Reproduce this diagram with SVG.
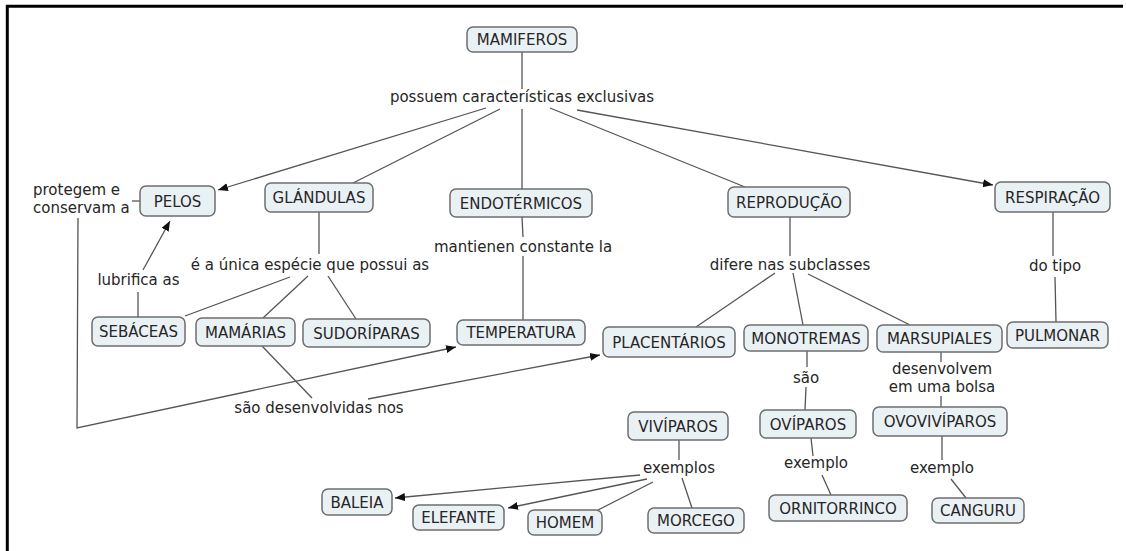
<svg xmlns="http://www.w3.org/2000/svg" width="1126" height="551" viewBox="0 0 1126 551">
  <style>
    .frame { stroke: #000; stroke-width: 3; fill: none; }
    .node rect { fill: #eaf1f5; stroke: #6e6e6e; stroke-width: 1.5; }
    .node text, .lbl { font-family: "DejaVu Sans", Verdana, sans-serif; font-size: 15px; fill: #262626; }
    .node text { text-anchor: middle; }
    .lbl { text-anchor: middle; }
    .lbl.left { text-anchor: start; }
    #connectors line, #connectors polyline { stroke: #555; stroke-width: 1.3; fill: none; }
    .arr { marker-end: url(#head); }
  </style>
  <defs>
    <marker id="head" viewBox="0 0 10 10" refX="10" refY="5" markerWidth="10" markerHeight="10" markerUnits="userSpaceOnUse" orient="auto">
      <path d="M0,1 L10,5 L0,9 Z" fill="#111"/>
    </marker>
  </defs>

  <rect width="1126" height="551" fill="#fff"/>
  <!-- page border: top and left edges -->
  <line class="frame" x1="6" y1="6.2" x2="1123" y2="6.2"/>
  <line class="frame" x1="7.3" y1="5" x2="7.3" y2="551"/>

  <g id="connectors">
    <!-- MAMIFEROS and its five characteristics -->
    <line x1="522" y1="52" x2="522" y2="89"/>
    <line class="arr" x1="486" y1="108" x2="218" y2="190"/>
    <line x1="500" y1="109" x2="353" y2="183"/>
    <line x1="522" y1="109" x2="522" y2="189"/>
    <line x1="550" y1="108" x2="745" y2="187"/>
    <line class="arr" x1="577" y1="110" x2="993" y2="185"/>

    <!-- PELOS -->
    <line x1="132" y1="201" x2="140" y2="201"/>
    <polyline class="arr" points="78,218 77,428 456,347"/>
    <line x1="138" y1="317" x2="138" y2="292"/>
    <line class="arr" x1="143" y1="270" x2="170" y2="221"/>

    <!-- GLÁNDULAS -->
    <line x1="319" y1="212" x2="319" y2="254"/>
    <line x1="290" y1="277" x2="185" y2="316"/>
    <line x1="308" y1="276" x2="263" y2="318"/>
    <line x1="328" y1="276" x2="356" y2="319"/>
    <line x1="262" y1="346" x2="312" y2="398"/>
    <line class="arr" x1="368" y1="399" x2="600" y2="355"/>

    <!-- ENDOTÉRMICOS -->
    <line x1="522" y1="217" x2="523" y2="237"/>
    <line x1="523" y1="256" x2="523" y2="320"/>

    <!-- REPRODUÇÃO -->
    <line x1="790" y1="217" x2="790" y2="256"/>
    <line x1="775" y1="273" x2="696" y2="327"/>
    <line x1="793" y1="273" x2="803" y2="325"/>
    <line x1="808" y1="274" x2="910" y2="325"/>

    <!-- RESPIRAÇÃO -->
    <line x1="1053" y1="212" x2="1053" y2="256"/>
    <line x1="1055" y1="277" x2="1056" y2="322"/>

    <!-- MONOTREMAS -->
    <line x1="807" y1="351" x2="807" y2="367"/>
    <line x1="806" y1="387" x2="805" y2="410"/>
    <line x1="811" y1="438" x2="813" y2="456"/>
    <line x1="822" y1="475" x2="831" y2="495"/>

    <!-- MARSUPIALES -->
    <line x1="941" y1="352" x2="941" y2="362"/>
    <line x1="941" y1="396" x2="941" y2="407"/>
    <line x1="942" y1="436" x2="942" y2="460"/>
    <line x1="951" y1="479" x2="966" y2="498"/>

    <!-- VIVÍPAROS -->
    <line x1="679" y1="440" x2="679" y2="460"/>
    <line class="arr" x1="640" y1="475" x2="395" y2="498"/>
    <line class="arr" x1="647" y1="479" x2="508" y2="508"/>
    <line x1="653" y1="482" x2="598" y2="510"/>
    <line x1="682" y1="478" x2="692" y2="508"/>
  </g>

  <!-- linking phrases -->
  <g id="labels">
    <text class="lbl" x="522" y="102">possuem características exclusivas</text>
    <text class="lbl left" x="33" y="195">protegem e</text>
    <text class="lbl left" x="33" y="213">conservam a</text>
    <text class="lbl" x="138.5" y="285">lubrifica as</text>
    <text class="lbl" x="310" y="270">é a única espécie que possui as</text>
    <text class="lbl" x="523" y="252">mantienen constante la</text>
    <text class="lbl" x="790" y="270">difere nas subclasses</text>
    <text class="lbl" x="1055" y="271">do tipo</text>
    <text class="lbl" x="319" y="413">são desenvolvidas nos</text>
    <text class="lbl" x="806" y="383">são</text>
    <text class="lbl" x="942" y="374">desenvolvem</text>
    <text class="lbl" x="942" y="392">em uma bolsa</text>
    <text class="lbl" x="816" y="468">exemplo</text>
    <text class="lbl" x="942" y="473">exemplo</text>
    <text class="lbl" x="679" y="473">exemplos</text>
  </g>

  <g id="mamiferos" class="node"><rect x="467" y="27" width="110" height="25" rx="6"/><text x="522" y="45">MAMIFEROS</text></g>
  <g id="pelos" class="node"><rect x="140" y="186" width="75" height="30" rx="6"/><text x="177.5" y="206.5">PELOS</text></g>
  <g id="glandulas" class="node"><rect x="265" y="183" width="108" height="29" rx="6"/><text x="319" y="203">GLÁNDULAS</text></g>
  <g id="endotermicos" class="node"><rect x="450" y="189" width="142" height="28" rx="6"/><text x="521" y="208.5">ENDOTÉRMICOS</text></g>
  <g id="reproducao" class="node"><rect x="728" y="187" width="122" height="30" rx="6"/><text x="789" y="207.5">REPRODUÇÃO</text></g>
  <g id="respiracao" class="node"><rect x="995" y="182" width="115" height="30" rx="6"/><text x="1052.5" y="202.5">RESPIRAÇÃO</text></g>
  <g id="sebaceas" class="node"><rect x="92" y="317" width="93" height="29" rx="6"/><text x="138.5" y="337">SEBÁCEAS</text></g>
  <g id="mamarias" class="node"><rect x="196" y="318" width="99" height="28" rx="6"/><text x="245.5" y="337.5">MAMÁRIAS</text></g>
  <g id="sudoriparas" class="node"><rect x="303" y="319" width="127" height="28" rx="6"/><text x="366.5" y="338.5">SUDORÍPARAS</text></g>
  <g id="temperatura" class="node"><rect x="457" y="320" width="128" height="25" rx="6"/><text x="521" y="338">TEMPERATURA</text></g>
  <g id="placentarios" class="node"><rect x="603" y="327" width="132" height="30" rx="6"/><text x="669" y="347.5">PLACENTÁRIOS</text></g>
  <g id="monotremas" class="node"><rect x="744" y="325" width="124" height="26" rx="6"/><text x="806" y="343.5">MONOTREMAS</text></g>
  <g id="marsupiales" class="node"><rect x="877" y="325" width="125" height="27" rx="6"/><text x="939.5" y="344">MARSUPIALES</text></g>
  <g id="pulmonar" class="node"><rect x="1007" y="322" width="101" height="26" rx="6"/><text x="1057.5" y="340.5">PULMONAR</text></g>
  <g id="viviparos" class="node"><rect x="628" y="412" width="100" height="28" rx="6"/><text x="678" y="431.5">VIVÍPAROS</text></g>
  <g id="oviparos" class="node"><rect x="760" y="410" width="96" height="28" rx="6"/><text x="808" y="429.5">OVÍPAROS</text></g>
  <g id="ovoviviparos" class="node"><rect x="873" y="407" width="134" height="29" rx="6"/><text x="940" y="427">OVOVIVÍPAROS</text></g>
  <g id="baleia" class="node"><rect x="322" y="489" width="70" height="26" rx="6"/><text x="357" y="507.5">BALEIA</text></g>
  <g id="elefante" class="node"><rect x="413" y="505" width="91" height="25" rx="6"/><text x="458.5" y="523">ELEFANTE</text></g>
  <g id="homem" class="node"><rect x="528" y="510" width="74" height="25" rx="6"/><text x="565" y="528">HOMEM</text></g>
  <g id="morcego" class="node"><rect x="648" y="508" width="96" height="25" rx="6"/><text x="696" y="526">MORCEGO</text></g>
  <g id="ornitorrinco" class="node"><rect x="769" y="495" width="138" height="26" rx="6"/><text x="838" y="513.5">ORNITORRINCO</text></g>
  <g id="canguru" class="node"><rect x="932" y="498" width="92" height="25" rx="6"/><text x="978" y="516">CANGURU</text></g>
</svg>
